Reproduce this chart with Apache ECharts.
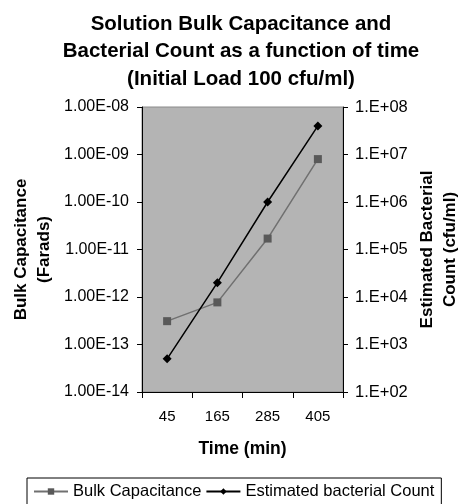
<!DOCTYPE html>
<html><head><meta charset="utf-8">
<script src="https://cdn.jsdelivr.net/npm/echarts@6/dist/echarts.min.js"></script>
<style>html,body{margin:0;padding:0;background:#fff}#c{width:459px;height:504px}</style>
</head><body><div id="c"></div>
<script>
const categories = ['45', '165', '285', '405'];
const bulkCapacitance = [3.1e-13, 7.7e-13, 1.7e-11, 8.0e-10];
const bacterialCount = [500, 2.0e4, 1.0e6, 4.0e7];
const leftTicks = [1e-14, 1e-8];
const rightTicks = [1e2, 1e8];

function expOf(v){ return Math.round(Math.log10(v)); }
function fmtLeft(v){ const e = expOf(v); const s = Math.abs(e) < 10 ? '0' + Math.abs(e) : '' + Math.abs(e); return '1.00E' + (e < 0 ? '-' : '+') + s; }
function fmtRight(v){ const e = expOf(v); const s = Math.abs(e) < 10 ? '0' + Math.abs(e) : '' + Math.abs(e); return '1.E' + (e < 0 ? '-' : '+') + s; }

const chart = echarts.init(document.getElementById('c'), null, {renderer: 'canvas'});
const FONT = '"Liberation Sans", Arial, sans-serif';
chart.setOption({
  animation: false,
  textStyle: {fontFamily: FONT},
  graphic: [{
    type: 'text', x: 241, y: 10.5,
    style: {
      text: 'Solution Bulk Capacitance and\nBacterial Count as a function of time\n(Initial Load 100 cfu/ml)',
      font: 'bold 20.5px ' + FONT, fill: '#000', textAlign: 'center', lineHeight: 27.5
    }
  }],
  grid: {left: 142, right: 116, top: 107, bottom: 112, outerBoundsMode: 'none', containLabel: false, show: true, backgroundColor: '#b4b4b4', borderColor: '#8a8a8a', borderWidth: 1},
  legend: {
    left: 27, top: 478, itemGap: 4, itemWidth: 34, itemHeight: 8,
    padding: [5, 7, 8, 6], borderColor: '#000', borderWidth: 1,
    textStyle: {fontSize: 16.5, color: '#000', fontFamily: FONT},
    data: ['Bulk Capacitance', 'Estimated bacterial Count']
  },
  xAxis: {
    type: 'category', data: categories, boundaryGap: true,
    name: 'Time (min)', nameLocation: 'middle', nameGap: 48,
    nameTextStyle: {fontSize: 17.5, fontWeight: 'bold', color: '#000', fontFamily: FONT},
    axisLine: {lineStyle: {color: '#000', width: 1}},
    axisTick: {show: true, length: 6, lineStyle: {color: '#000'}},
    axisLabel: {fontSize: 15, color: '#000', margin: 17, fontFamily: FONT}
  },
  yAxis: [{
    type: 'log', logBase: 10, min: leftTicks[0], max: leftTicks[1], position: 'left',
    name: 'Bulk Capacitance\n(Farads)', nameLocation: 'middle', nameGap: 86, nameRotate: 90,
    nameTextStyle: {fontSize: 17, fontWeight: 'bold', color: '#000', lineHeight: 23, fontFamily: FONT},
    axisLine: {show: true, lineStyle: {color: '#000'}},
    axisTick: {show: true, length: 5, lineStyle: {color: '#000'}},
    splitLine: {show: false},
    axisLabel: {fontSize: 16, color: '#000', margin: 13, formatter: fmtLeft, fontFamily: FONT}
  }, {
    type: 'log', logBase: 10, min: rightTicks[0], max: rightTicks[1], position: 'right',
    name: 'Estimated Bacterial\nCount (cfu/ml)', nameLocation: 'middle', nameGap: 73, nameRotate: 90,
    nameTextStyle: {fontSize: 17, fontWeight: 'bold', color: '#000', lineHeight: 23, fontFamily: FONT},
    axisLine: {show: true, lineStyle: {color: '#000'}},
    axisTick: {show: true, length: 5, lineStyle: {color: '#000'}},
    splitLine: {show: false},
    axisLabel: {fontSize: 16.5, color: '#000', margin: 12, formatter: fmtRight, fontFamily: FONT}
  }],
  series: [{
    name: 'Bulk Capacitance', type: 'line', yAxisIndex: 0, data: bulkCapacitance,
    symbol: 'rect', symbolSize: 8,
    itemStyle: {color: '#595959'},
    lineStyle: {color: '#707070', width: 1.5}
  }, {
    name: 'Estimated bacterial Count', type: 'line', yAxisIndex: 1, data: bacterialCount,
    symbol: 'diamond', symbolSize: 9,
    itemStyle: {color: '#000'},
    lineStyle: {color: '#000', width: 1.5}
  }]
});
</script></body></html>
